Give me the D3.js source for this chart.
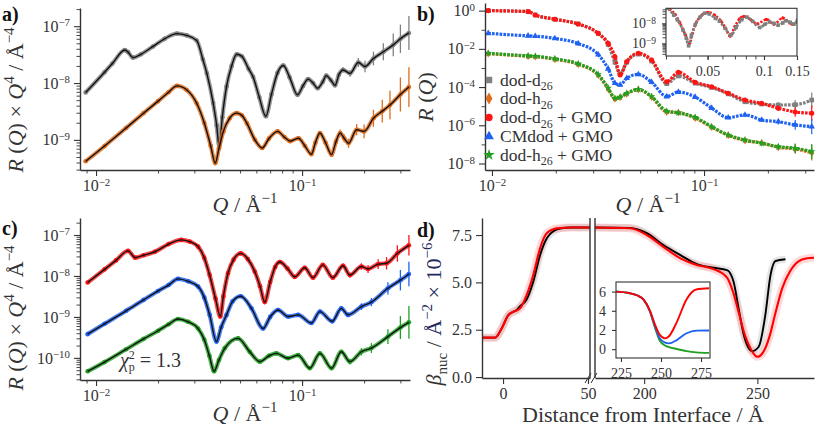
<!DOCTYPE html>
<html>
<head>
<meta charset="utf-8">
<script src="https://cdn.jsdelivr.net/npm/d3@7/dist/d3.min.js"></script>
<style>
  body { margin: 0; background: #fff; }
  svg text, svg tspan { font-family: "Liberation Serif", "Times New Roman", "DejaVu Serif", serif !important; }
</style>
</head>
<body>
<svg id="fig" width="817" height="431" font-family="Liberation Serif, DejaVu Serif, serif"></svg>
<script>
// ---------- panel a : R(Q)·Q^4 of the pure oils ----------
const qD26 = [0.0089, 0.0110, 0.0120, 0.0138, 0.0143, 0.0151, 0.0165, 0.0189, 0.0215, 0.0247, 0.0275, 0.0308, 0.0330, 0.0345, 0.0370, 0.0385, 0.0396, 0.0410, 0.0430, 0.0455, 0.0482, 0.0510, 0.0550, 0.0578, 0.0620, 0.0667, 0.0710, 0.0760, 0.0811, 0.0870, 0.0950, 0.1010, 0.1070, 0.1130, 0.1190, 0.1260, 0.1310, 0.1380, 0.1445, 0.1510, 0.1580, 0.1710, 0.1875, 0.2020, 0.2220, 0.2480, 0.2770, 0.3000, 0.3300];
const rq4D26 = [6.8e-9, 1.55e-8, 2.2e-8, 3.8e-8, 3.5e-8, 2.8e-8, 3.2e-8, 4.4e-8, 6.0e-8, 7.4e-8, 6.9e-8, 5.6e-8, 2.6e-8, 1.48e-8, 4.5e-9, 1.8e-9, 7.6e-10, 2.5e-9, 8.7e-9, 2.0e-8, 3.2e-8, 2.95e-8, 1.78e-8, 1.29e-8, 5.6e-9, 2.6e-9, 6.3e-9, 1.51e-8, 2.04e-8, 1.26e-8, 6.2e-9, 8.9e-9, 1.17e-8, 1.0e-8, 8.1e-9, 1.05e-8, 1.35e-8, 1.12e-8, 9.1e-9, 1.41e-8, 1.7e-8, 1.48e-8, 2.3e-8, 1.95e-8, 2.7e-8, 3.55e-8, 4.7e-8, 6.0e-8, 7.6e-8];
const errD26 = [...Array(39).fill(0), 0.04, 0.05, 0.06, 0.08, 0.1, 0.12, 0.15, 0.2, 0.25, 0.3];

const qH26 = [0.0089, 0.0110, 0.0140, 0.0170, 0.0200, 0.0225, 0.0247, 0.0275, 0.0308, 0.0335, 0.0360, 0.0379, 0.0395, 0.0415, 0.0445, 0.0482, 0.0510, 0.0540, 0.0590, 0.0640, 0.0690, 0.0760, 0.0820, 0.0875, 0.0960, 0.1030, 0.1110, 0.1160, 0.1220, 0.1300, 0.1390, 0.1460, 0.1530, 0.1600, 0.1680, 0.1840, 0.2000, 0.2220, 0.2450, 0.2670, 0.3000, 0.3300];
const rq4H26 = [4.2e-10, 7.8e-10, 1.62e-9, 2.95e-9, 4.8e-9, 6.9e-9, 8.9e-9, 7.6e-9, 4.4e-9, 2.0e-9, 7.9e-10, 3.9e-10, 7.1e-10, 1.41e-9, 2.4e-9, 2.95e-9, 2.7e-9, 1.95e-9, 1.0e-9, 7.2e-10, 1.05e-9, 1.41e-9, 1.12e-9, 9.5e-10, 1.07e-9, 7.9e-10, 5.6e-10, 8.9e-10, 1.32e-9, 8.9e-10, 5.5e-10, 9.3e-10, 1.32e-9, 1.07e-9, 8.7e-10, 1.51e-9, 1.41e-9, 2.4e-9, 3.2e-9, 4.1e-9, 6.3e-9, 8.5e-9];
const errH26 = [...Array(31).fill(0), 0.05, 0.06, 0.07, 0.08, 0.1, 0.12, 0.15, 0.2, 0.25, 0.3, 0.35];

// ---------- panel c : R(Q)·Q^4 with GMO ----------
const qD26GMO = [0.0091, 0.0110, 0.0125, 0.0143, 0.0155, 0.0170, 0.0193, 0.0225, 0.0259, 0.0285, 0.0313, 0.0335, 0.0356, 0.0380, 0.0401, 0.0415, 0.0437, 0.0465, 0.0504, 0.0545, 0.0589, 0.0625, 0.0659, 0.0700, 0.0740, 0.0780, 0.0850, 0.0922, 0.1030, 0.1130, 0.1260, 0.1410, 0.1580, 0.1705, 0.1940, 0.2090, 0.2340, 0.2570, 0.2900, 0.3300];
const rq4D26GMO = [6.9e-9, 1.45e-8, 2.4e-8, 4.1e-8, 2.8e-8, 3.2e-8, 3.9e-8, 6.0e-8, 7.6e-8, 6.9e-8, 5.2e-8, 2.8e-8, 1.05e-8, 2.8e-9, 1.02e-9, 3.2e-9, 1.17e-8, 2.5e-8, 3.55e-8, 2.6e-8, 1.29e-8, 5.6e-9, 2.3e-9, 7.1e-9, 1.66e-8, 2.2e-8, 1.51e-8, 9.5e-9, 1.58e-8, 9.1e-9, 1.86e-8, 9.1e-9, 1.78e-8, 1.05e-8, 1.7e-8, 1.48e-8, 1.95e-8, 2.04e-8, 3.55e-8, 5.6e-8];
const errD26GMO = [...Array(32).fill(0), 0.05, 0.06, 0.08, 0.1, 0.12, 0.15, 0.2, 0.25];

const qCMGMO = [0.0091, 0.0110, 0.0140, 0.0170, 0.0200, 0.0225, 0.0250, 0.0280, 0.0313, 0.0335, 0.0356, 0.0384, 0.0405, 0.0430, 0.0460, 0.0504, 0.0568, 0.0647, 0.0700, 0.0764, 0.0855, 0.0957, 0.1110, 0.1220, 0.1400, 0.1550, 0.1670, 0.1940, 0.2170, 0.2610, 0.3000, 0.3300];
const rq4CMGMO = [3.8e-10, 6.8e-10, 1.41e-9, 2.6e-9, 4.3e-9, 6.0e-9, 8.5e-9, 7.4e-9, 5.5e-9, 3.0e-9, 1.12e-9, 2.5e-10, 5.6e-10, 1.12e-9, 2.4e-9, 3.2e-9, 1.62e-9, 5.2e-10, 1.0e-9, 1.48e-9, 1.02e-9, 1.12e-9, 7.1e-10, 1.35e-9, 7.8e-10, 1.62e-9, 1.12e-9, 1.78e-9, 2.3e-9, 5.0e-9, 7.9e-9, 1.12e-8];
const errCMGMO = [...Array(25).fill(0), 0.05, 0.06, 0.08, 0.1, 0.15, 0.25, 0.3];

const qH26GMO = [0.0091, 0.0110, 0.0140, 0.0170, 0.0200, 0.0225, 0.0250, 0.0280, 0.0313, 0.0335, 0.0355, 0.0374, 0.0395, 0.0422, 0.0489, 0.0557, 0.0624, 0.0690, 0.0750, 0.0855, 0.0957, 0.1090, 0.1220, 0.1390, 0.1550, 0.1705, 0.1940, 0.2170, 0.2610, 0.3000, 0.3300];
const rq4H26GMO = [4.7e-11, 7.9e-11, 1.62e-10, 2.9e-10, 4.6e-10, 6.6e-10, 8.9e-10, 7.6e-10, 5.2e-10, 2.8e-10, 1.12e-10, 4.7e-11, 8.9e-11, 1.74e-10, 3.0e-10, 1.41e-10, 8.1e-11, 1.12e-10, 1.29e-10, 9.8e-11, 1.17e-10, 5.6e-11, 1.29e-10, 5.6e-11, 1.41e-10, 8.1e-11, 1.41e-10, 1.74e-10, 3.3e-10, 5.5e-10, 7.4e-10];
const errH26GMO = [...Array(24).fill(0), 0.05, 0.07, 0.09, 0.12, 0.18, 0.28, 0.4];

// ---------- panel b : R(Q) ----------
const qB = [0.0096, 0.0148, 0.0160, 0.0198, 0.0255, 0.0317, 0.0353, 0.0380, 0.0402, 0.0432, 0.0490, 0.0566, 0.0667, 0.0757, 0.0908, 0.1086, 0.130, 0.156, 0.187, 0.224, 0.269, 0.322];
const rD26 = [1.0, 0.89, 0.59, 0.355, 0.20, 0.063, 0.017, 2.0e-3, 5.0e-4, 2.0e-3, 5.3e-3, 2.3e-3, 1.5e-4, 3.8e-4, 1.6e-4, 9.5e-5, 4.4e-5, 1.7e-5, 1.3e-5, 1.15e-5, 1.2e-5, 2.1e-5];
const rH26 = [5.6e-3, 4.1e-3, 3.9e-3, 2.85e-3, 1.55e-3, 4.2e-4, 8.0e-5, 2.4e-5, 2.9e-5, 4.5e-5, 7.4e-5, 3.0e-5, 5.0e-6, 4.6e-6, 2.4e-6, 8.0e-7, 3.0e-7, 1.6e-7, 1.2e-7, 7.0e-8, 5.8e-8, 3.6e-8];
const rD26GMO = [1.0, 0.89, 0.59, 0.355, 0.20, 0.065, 0.0195, 0.0039, 4.3e-4, 2.1e-3, 5.9e-3, 2.6e-3, 1.9e-4, 5.9e-4, 1.8e-4, 1.05e-4, 4.8e-5, 2.1e-5, 1.4e-5, 7.8e-6, 5.0e-6, 4.3e-6];
const rCMGMO = [0.065, 0.048, 0.046, 0.035, 0.019, 5.0e-3, 9.0e-4, 1.6e-4, 1.3e-4, 2.9e-4, 4.6e-4, 1.8e-4, 3.2e-5, 5.5e-5, 3.0e-5, 8.0e-6, 2.5e-6, 3.5e-6, 1.9e-6, 1.55e-6, 1.05e-6, 8.5e-7];
const rH26GMO = [5.9e-3, 4.3e-3, 4.1e-3, 3.0e-3, 1.65e-3, 4.5e-4, 9.0e-5, 2.6e-5, 3.0e-5, 4.7e-5, 7.6e-5, 3.2e-5, 5.5e-6, 4.5e-6, 2.6e-6, 8.5e-7, 3.1e-7, 1.7e-7, 1.15e-7, 7.6e-8, 6.3e-8, 4.2e-8];
const errB = [...Array(17).fill(0), 0.05, 0.1, 0.15, 0.25, 0.4];
const legendNames = [["dod-d", "26", ""], ["dod-h", "26", ""], ["dod-d", "26", " + GMO"], ["CMdod + GMO", "", ""], ["dod-h", "26", " + GMO"]];

// ---------- panel d : SLD profiles ----------
const zRed = [-12, -4.7, -0.8, 3.1, 6.1, 10, 13.9, 17.8, 21.8, 25.7, 31.6, 40, 51.2, 178.3, 193.8, 201.2, 208.5, 216, 223.3, 230.7, 236.6, 239.5, 242, 244.5, 247, 250, 253, 255.5, 258, 261, 264.5, 268, 272, 275];
const sldRed = [2.08, 2.08, 2.57, 3.27, 3.45, 3.63, 4.33, 5.39, 6.80, 7.59, 7.85, 7.9, 7.9, 7.9, 7.86, 7.5, 6.88, 6.27, 5.92, 5.70, 5.25, 4.4, 3.3, 2.2, 1.5, 1.07, 1.4, 2.2, 3.4, 4.7, 5.6, 6.1, 6.27, 6.30];
const zBlack = [-12, -4.7, -0.8, 3.1, 6.1, 8, 10, 13.9, 17.8, 21.8, 25, 27.6, 33.5, 40, 51.2, 178.3, 193.8, 201.2, 208.5, 216, 223.3, 230.7, 236.6, 239.5, 241.7, 244, 247.7, 250.6, 253.5, 255.8, 258, 262.4];
const sldBlack = [2.08, 2.08, 2.57, 3.27, 3.45, 3.54, 3.75, 4.1, 5.03, 6.44, 7.2, 7.55, 7.84, 7.9, 7.9, 7.9, 7.88, 7.6, 6.97, 6.44, 5.96, 5.77, 5.65, 5.03, 3.63, 2.22, 1.37, 1.60, 3.27, 5.39, 6.13, 6.22];
const zInset = [222, 230, 235, 239, 243, 246.3, 249, 252.5, 255, 259.8, 266, 272, 280];
const sldInRed = [6.0, 5.85, 5.62, 5.19, 4.05, 2.54, 1.55, 1.13, 1.35, 2.8, 5.2, 6.22, 6.35];
const sldInBlue = [6.0, 5.85, 5.62, 5.19, 4.0, 2.36, 1.2, 0.68, 0.6, 0.95, 1.66, 1.93, 1.94];
const sldInGreen = [6.0, 5.85, 5.62, 5.19, 3.95, 2.19, 0.95, 0.38, 0.22, 0.02, -0.2, -0.33, -0.39];

// tick values
const ticksQ = [0.01, 0.1];
const ticksA = [1e-9, 1e-8, 1e-7];
const ticksB = [1, 1e-2, 1e-4, 1e-6, 1e-8];
const ticksBodd = [1e-1, 1e-3, 1e-5, 1e-7];
const ticksC = [1e-10, 1e-9, 1e-8, 1e-7];
const ticksBin = [1e-9, 1e-8];
const ticksQin = [0.05, 0.1, 0.15];
const ticksD = [0, 2.5, 5, 7.5];
const ticksDL = [0, 50];
const ticksDR = [200, 250];
const ticksDinX = [225, 250, 275];
const ticksDinY = [0, 2, 4, 6];

const INK = "#333";
const SERIF = "Liberation Serif, DejaVu Serif, serif";
const col = { gray: "#808080", orange: "#de6c1c", red: "#ff1414", blue: "#1f62f2", green: "#22a022" };

const svg = d3.select("#fig");
const defs = svg.append("defs");
function clip(id, x, y, w, h) {
  defs.append("clipPath").attr("id", id).append("rect").attr("x", x).attr("y", y).attr("width", w).attr("height", h);
  return "url(#" + id + ")";
}

function logMinors(scale) {
  const [a, b] = scale.domain(), out = [];
  for (let e = Math.floor(Math.log10(a)); e <= Math.ceil(Math.log10(b)); e++)
    for (let k = 2; k <= 9; k++) { const v = k * Math.pow(10, e); if (v >= a && v <= b) out.push(v); }
  return out;
}

// draws one axis with major ticks (and optional minor ticks)
function axis(g, make, major, minor, fs, fmt) {
  const a = make().tickValues(major).tickSize(6).tickSizeOuter(0).tickPadding(4);
  if (fmt) a.tickFormat(fmt);
  const gm = g.append("g").call(a);
  gm.attr("font-size", fs).attr("font-family", SERIF);
  gm.select(".domain").attr("stroke", INK).attr("stroke-width", 1.4);
  gm.selectAll(".tick line").attr("stroke", INK).attr("stroke-width", 1.1);
  gm.selectAll(".tick text").attr("fill", INK).attr("font-family", SERIF);
  if (minor && minor.length) {
    const gn = g.append("g").call(make().tickValues(minor).tickSize(3.5).tickSizeOuter(0).tickFormat(""));
    gn.select(".domain").remove();
    gn.selectAll(".tick line").attr("stroke", INK).attr("stroke-width", 0.9);
  }
  return gm;
}
function powLabels(gm) {
  gm.selectAll(".tick text").each(function (d) {
    const e = Math.round(Math.log10(d));
    const t = d3.select(this).text("10");
    t.append("tspan").attr("dy", "-0.5em").attr("font-size", "0.68em").text(e < 0 ? "\u2212" + (-e) : String(e));
  });
}

// rich text: parts = [text, style] with style one of "", "i", "sup", "sub"
function rich(sel, fs, parts) {
  let shift = 0;
  parts.forEach(([t, s]) => {
    const target = s === "sup" ? -0.42 * fs : s === "sub" ? 0.28 * fs : 0;
    const ts = sel.append("tspan").text(t).attr("dy", target - shift);
    if (s === "sup" || s === "sub") ts.attr("font-size", fs * 0.68);
    if (s === "i") ts.attr("font-style", "italic");
    shift = target;
  });
  return sel;
}
function label(x, y, fs, parts, rot, anchor) {
  const t = svg.append("text").attr("font-size", fs).attr("fill", INK).attr("font-family", SERIF)
    .attr("text-anchor", anchor || "middle")
    .attr("transform", `translate(${x},${y})` + (rot ? " rotate(-90)" : ""));
  return rich(t, fs, parts);
}
function panelTag(x, y, s) {
  svg.append("text").attr("x", x).attr("y", y).attr("font-size", 20).attr("font-weight", "bold")
    .attr("font-family", SERIF).attr("fill", "#111").text(s);
}

// reflectivity series with error bars, markers and fit line
function refSeries(g, x, y, q, v, err, color) {
  const pts = q.map((d, i) => ({ q: d, v: v[i], e: err[i] }));
  const line = d3.line().x(d => x(d.q)).y(d => y(d.v)).curve(d3.curveMonotoneX);
  g.selectAll(null).data(pts.filter(d => d.e > 0)).join("line")
    .attr("x1", d => x(d.q)).attr("x2", d => x(d.q))
    .attr("y1", d => y(d.v * Math.pow(10, d.e))).attr("y2", d => y(d.v / Math.pow(10, d.e)))
    .attr("stroke", color).attr("stroke-width", 1.3);
  g.append("path").datum(pts).attr("d", line).attr("fill", "none")
    .attr("stroke", color).attr("stroke-width", 4.2).attr("stroke-opacity", 0.8);
  g.selectAll(null).data(pts).join("circle")
    .attr("cx", d => x(d.q)).attr("cy", d => y(d.v)).attr("r", 2.3).attr("fill", color);
  g.append("path").datum(pts).attr("d", line).attr("fill", "none")
    .attr("stroke", "#111").attr("stroke-width", 1.4);
}

const qTitle = [["Q", "i"], [" / \u00c5", ""], ["\u22121", "sup"]];
const rq4Title = [["R", "i"], [" (", ""], ["Q", "i"], [")  \u00d7  ", ""], ["Q", "i"], ["4", "sup"], ["  /  \u00c5", ""], ["\u22124", "sup"]];

// ================= panel a =================
{
  const x = d3.scaleLog().domain([0.00836, 0.334]).range([80, 410]);
  const y = d3.scaleLog().domain([Math.pow(10, -9.53), Math.pow(10, -6.68)]).range([170, 8]);
  const g = svg.append("g");
  const data = g.append("g").attr("clip-path", clip("ca", 80, 8, 332, 162));
  refSeries(data, x, y, qD26, rq4D26, errD26, col.gray);
  refSeries(data, x, y, qH26, rq4H26, errH26, col.orange);
  powLabels(axis(g.append("g").attr("transform", "translate(0,170)"), () => d3.axisBottom(x), ticksQ, logMinors(x), 16));
  powLabels(axis(g.append("g").attr("transform", "translate(80,0)"), () => d3.axisLeft(y), ticksA, logMinors(y), 16));
  label(245, 212, 22, qTitle);
  label(23, 100, 22, rq4Title, true);
  panelTag(2, 21, "a)");
}

// ================= panel c =================
{
  const x = d3.scaleLog().domain([0.00836, 0.334]).range([80, 410]);
  const y = d3.scaleLog().domain([Math.pow(10, -10.54), Math.pow(10, -6.585)]).range([380, 218]);
  const g = svg.append("g");
  const data = g.append("g").attr("clip-path", clip("cc", 80, 218, 332, 162));
  refSeries(data, x, y, qD26GMO, rq4D26GMO, errD26GMO, col.red);
  refSeries(data, x, y, qCMGMO, rq4CMGMO, errCMGMO, col.blue);
  refSeries(data, x, y, qH26GMO, rq4H26GMO, errH26GMO, col.green);
  powLabels(axis(g.append("g").attr("transform", "translate(0,380)"), () => d3.axisBottom(x), ticksQ, logMinors(x), 16));
  powLabels(axis(g.append("g").attr("transform", "translate(80,0)"), () => d3.axisLeft(y), ticksC, logMinors(y), 16));
  label(245, 421, 22, qTitle);
  label(23, 318, 22, rq4Title, true);
  const chi = svg.append("text").attr("x", 120).attr("y", 367).attr("font-size", 20)
    .attr("font-family", SERIF).attr("fill", INK);
  chi.append("tspan").attr("font-style", "italic").text("\u03c7");
  chi.append("tspan").attr("dy", -8).attr("font-size", 12).text("2");
  chi.append("tspan").attr("dx", -6).attr("dy", 12).attr("font-size", 12).text("p");
  chi.append("tspan").attr("dy", -4).text(" = 1.3");
  panelTag(2, 235, "c)");
}

// ================= panel b =================
{
  const x = d3.scaleLog().domain([0.00927, 0.330]).range([485, 814]);
  const y = d3.scaleLog().domain([Math.pow(10, -8.34), Math.pow(10, 0.4)]).range([170, 3]);
  const g = svg.append("g");
  const data = g.append("g").attr("clip-path", clip("cb", 485, 0, 332, 170));
  const series = [
    { v: rD26, color: col.gray, sym: d3.symbolSquare, size: 22 },
    { v: rH26, color: col.orange, sym: d3.symbolDiamond, size: 18 },
    { v: rD26GMO, color: col.red, sym: d3.symbolCircle, size: 20 },
    { v: rCMGMO, color: col.blue, sym: d3.symbolTriangle, size: 18 },
    { v: rH26GMO, color: col.green, sym: d3.symbolStar, size: 18 }
  ];
  series.forEach(s => {
    const pts = qB.map((q, i) => ({ q, v: s.v[i], e: errB[i] }));
    data.selectAll(null).data(pts.filter(d => d.e > 0)).join("line")
      .attr("x1", d => x(d.q)).attr("x2", d => x(d.q))
      .attr("y1", d => y(d.v * Math.pow(10, d.e))).attr("y2", d => y(d.v / Math.pow(10, d.e)))
      .attr("stroke", s.color).attr("stroke-width", 1.2);
    data.append("path").datum(pts)
      .attr("d", d3.line().x(d => x(d.q)).y(d => y(d.v)).curve(d3.curveMonotoneX))
      .attr("fill", "none").attr("stroke", s.color).attr("stroke-width", 3.2).attr("stroke-dasharray", "2.6 1.2");
    data.selectAll(null).data(pts).join("path")
      .attr("transform", d => `translate(${x(d.q)},${y(d.v)})`)
      .attr("d", d3.symbol(s.sym, s.size)).attr("fill", s.color);
  });
  powLabels(axis(g.append("g").attr("transform", "translate(0,170)"), () => d3.axisBottom(x), ticksQ, logMinors(x), 16));
  const ya = axis(g.append("g").attr("transform", "translate(485,0)"), () => d3.axisLeft(y), ticksB, ticksBodd, 16);
  powLabels(ya);
  label(648, 212, 22, qTitle);
  label(433, 97, 22, [["R", "i"], [" (", ""], ["Q", "i"], [")", ""]], true);
  panelTag(417, 21, "b)");

  // legend
  const rows = [80, 98.5, 117.5, 136.5, 155];
  series.forEach((s, i) => {
    svg.append("path").attr("transform", `translate(489,${rows[i]})`)
      .attr("d", d3.symbol(s.sym, 42)).attr("fill", s.color);
    const t = svg.append("text").attr("x", 500).attr("y", rows[i] + 5.5).attr("font-size", 17.5)
      .attr("font-family", SERIF).attr("fill", INK);
    const [a, sub, tail] = legendNames[i];
    const parts = [[a, ""]];
    if (sub) parts.push([sub, "sub"]);
    if (tail) parts.push([tail, ""]);
    rich(t, 17.5, parts);
  });

  // inset: R·Q^4 of dod-d26 with and without GMO
  const xi = d3.scaleLog().domain([0.03, 0.15]).range([666, 797]);
  const yi = d3.scaleLog().domain([Math.pow(10, -9.63), Math.pow(10, -7.25)]).range([56, 8.3]);
  svg.append("rect").attr("x", 666).attr("y", 8.3).attr("width", 131).attr("height", 47.7).attr("fill", "#fff");
  const gi = svg.append("g").attr("clip-path", clip("cbi", 666, 8.3, 131, 47.7));
  const inR = qD26GMO.map((q, i) => ({ q, v: rq4D26GMO[i] })).filter(d => d.q >= 0.029 && d.q <= 0.16);
  const inG = qD26.map((q, i) => ({ q, v: rq4D26[i] })).filter(d => d.q >= 0.029 && d.q <= 0.16);
  const li = d3.line().x(d => xi(d.q)).y(d => yi(d.v)).curve(d3.curveMonotoneX);
  gi.append("path").datum(inR).attr("d", li).attr("fill", "none").attr("stroke", col.red)
    .attr("stroke-width", 2.6).attr("stroke-dasharray", "2.2 1.6");
  gi.selectAll(null).data(inR).join("circle").attr("cx", d => xi(d.q)).attr("cy", d => yi(d.v)).attr("r", 1.6).attr("fill", col.red);
  gi.append("path").datum(inG).attr("d", li).attr("fill", "none").attr("stroke", col.gray)
    .attr("stroke-width", 2.8).attr("stroke-dasharray", "2.6 1.6");
  gi.selectAll(null).data(inG).join("rect").attr("x", d => xi(d.q) - 1.8).attr("y", d => yi(d.v) - 1.8)
    .attr("width", 3.6).attr("height", 3.6).attr("fill", col.gray);
  svg.append("rect").attr("x", 666).attr("y", 8.3).attr("width", 131).attr("height", 47.7)
    .attr("fill", "none").attr("stroke", INK).attr("stroke-width", 1.1);
  const ix = axis(svg.append("g").attr("transform", "translate(0,56)"), () => d3.axisBottom(xi), ticksQin,
    logMinors(xi).filter(v => v < 0.15), 14, d => String(d));
  ix.select(".domain").remove();
  ix.selectAll(".tick line").attr("y2", 4);
  const iy = axis(svg.append("g").attr("transform", "translate(666,0)"), () => d3.axisLeft(yi), ticksBin, logMinors(yi), 14);
  iy.select(".domain").remove();
  iy.selectAll(".tick line").attr("x2", -4);
  powLabels(iy);
}

// ================= panel d =================
{
  const y = d3.scaleLinear().domain([-0.05, 8.4]).range([378, 218]);
  const xl = d3.scaleLinear().domain([-12.4, 51.2]).range([482, 590]);
  const xr = d3.scaleLinear().domain([178.3, 275]).range([595, 814]);
  const g = svg.append("g");
  const left = g.append("g").attr("clip-path", clip("cdl", 482, 218, 108, 160));
  const right = g.append("g").attr("clip-path", clip("cdr", 595, 218, 222, 160));
  const red = zRed.map((z, i) => ({ z, v: sldRed[i] }));
  const blk = zBlack.map((z, i) => ({ z, v: sldBlack[i] }));
  [[left, xl, d => d.z <= 52], [right, xr, d => d.z >= 178]].forEach(([pg, xs, keep]) => {
    const ln = d3.line().x(d => xs(d.z)).y(d => y(d.v)).curve(d3.curveMonotoneX);
    pg.append("path").datum(blk.filter(keep)).attr("d", ln).attr("fill", "none")
      .attr("stroke", "#aaa").attr("stroke-opacity", 0.3).attr("stroke-width", 7).attr("stroke-linejoin", "round");
    pg.append("path").datum(red.filter(keep)).attr("d", ln).attr("fill", "none")
      .attr("stroke", "#ff8080").attr("stroke-opacity", 0.3).attr("stroke-width", 8).attr("stroke-linejoin", "round");
    pg.append("path").datum(blk.filter(keep)).attr("d", ln).attr("fill", "none")
      .attr("stroke", "#000").attr("stroke-width", 1.9);
    pg.append("path").datum(red.filter(keep)).attr("d", ln).attr("fill", "none")
      .attr("stroke", "#f00").attr("stroke-width", 2.1);
  });
  axis(g.append("g").attr("transform", "translate(482,0)"), () => d3.axisLeft(y), ticksD, null, 16, d3.format(".1f"));
  axis(g.append("g").attr("transform", "translate(0,378)"), () => d3.axisBottom(xl), ticksDL, null, 16);
  axis(g.append("g").attr("transform", "translate(0,378)"), () => d3.axisBottom(xr), ticksDR, null, 16);
  // broken-axis spines and marks
  [590, 595].forEach(px => g.append("line").attr("x1", px).attr("x2", px).attr("y1", 218).attr("y2", 378)
    .attr("stroke", INK).attr("stroke-width", 1.4));
  [[585, 591], [591, 597]].forEach(([a, b]) => g.append("line").attr("x1", a).attr("y1", 383).attr("x2", b).attr("y2", 373)
    .attr("stroke", INK).attr("stroke-width", 1));
  label(643, 422, 22, [["Distance from Interface / \u00c5", ""]]);
  const yl = label(441, 314, 22, [], true);
  rich(yl, 22, [["\u03b2", "i"], ["nuc", "sub"], [" / ", ""]]);
  const unit = yl.append("tspan").attr("fill", "#252a5c");
  rich(unit, 22, [["\u00c5", ""], ["\u22122", "sup"], [" \u00d7 10", ""], ["\u22126", "sup"]]);
  panelTag(417, 237, "d)");

  // inset: SLD around the second interface
  const xi = d3.scaleLinear().domain([221.9, 280.6]).range([616, 710]);
  const yi = d3.scaleLinear().domain([-0.92, 7.0]).range([358, 282]);
  svg.append("rect").attr("x", 616).attr("y", 282).attr("width", 94).attr("height", 76).attr("fill", "#fff");
  const gi = svg.append("g").attr("clip-path", clip("cdi", 616, 282, 94, 76));
  const li = d3.line().x((d, i) => xi(zInset[i])).y(d => yi(d)).curve(d3.curveMonotoneX);
  [[sldInGreen, col.green], [sldInBlue, col.blue], [sldInRed, "#f00"]].forEach(([v, c]) =>
    gi.append("path").datum(v).attr("d", li).attr("fill", "none").attr("stroke", c).attr("stroke-width", 1.9));
  svg.append("rect").attr("x", 616).attr("y", 282).attr("width", 94).attr("height", 76)
    .attr("fill", "none").attr("stroke", INK).attr("stroke-width", 1.1);
  const ix = axis(svg.append("g").attr("transform", "translate(0,358)"), () => d3.axisBottom(xi), ticksDinX, null, 14);
  ix.select(".domain").remove();
  ix.selectAll(".tick line").attr("y2", 4);
  const iy = axis(svg.append("g").attr("transform", "translate(616,0)"), () => d3.axisLeft(yi), ticksDinY, null, 14);
  iy.select(".domain").remove();
  iy.selectAll(".tick line").attr("x2", -4);
}
</script>
</body>
</html>
